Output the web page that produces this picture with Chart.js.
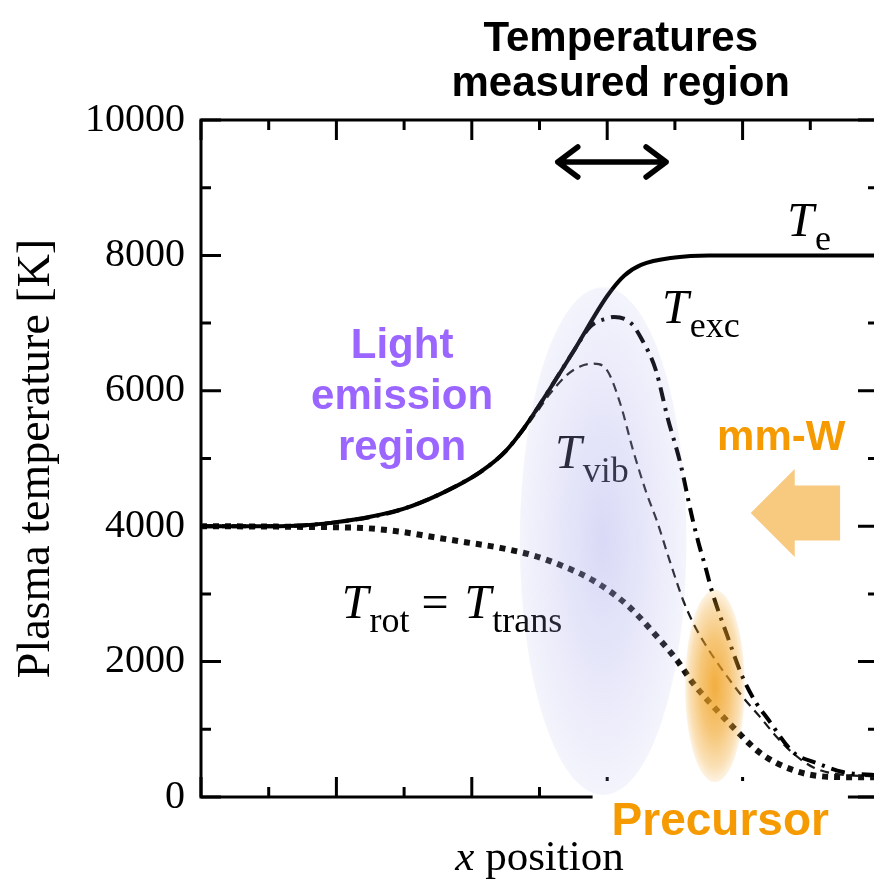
<!DOCTYPE html>
<html>
<head>
<meta charset="utf-8">
<script src="https://cdn.jsdelivr.net/npm/chart.js@4"></script>
<style>
  html, body { margin: 0; padding: 0; background: #fff; overflow: hidden; }
  canvas { display: block; }
</style>
</head>
<body>
<canvas id="tempChart" width="884" height="887"></canvas>
<script>
'use strict';

const SERIF = '"Liberation Serif", "Times New Roman", serif';
const SANS  = '"Liberation Sans", Arial, sans-serif';

// Temperature profiles along the x position (arbitrary units 0..10), in K
const teX  = [0, 1, 1.5, 2, 2.5, 3, 3.5, 4, 4.25, 4.5, 4.75, 5, 5.5, 6, 6.25, 6.5, 7, 7.5, 8, 9, 10];
const teY  = [4000, 4000, 4010, 4060, 4140, 4260, 4460, 4720, 4890, 5110, 5420, 5790, 6580, 7400, 7700, 7860, 7970, 8000, 8000, 8000, 8000];

const excX = [0, 1, 2, 3, 4, 4.25, 4.5, 4.75, 5, 5.5, 5.75, 6.0, 6.1, 6.35, 6.5, 6.72, 6.89, 7.08, 7.25, 7.35, 7.45, 7.55, 7.77, 8.0, 8.2, 8.36, 8.75, 9.1, 9.48, 10];
const excY = [4000, 4000, 4060, 4260, 4720, 4890, 5110, 5420, 5790, 6580, 6950, 7070, 7090, 7000, 6780, 6300, 5610, 4930, 4150, 3750, 3400, 3030, 2390, 1770, 1390, 1170, 660, 500, 370, 320];

const vibX = [0, 1, 2, 3, 4, 4.25, 4.5, 4.75, 5, 5.15, 5.4, 5.6, 5.8, 6.0, 6.19, 6.38, 6.58, 6.73, 6.92, 7.12, 7.27, 7.47, 7.67, 8.0, 8.26, 8.5, 8.74, 9.04, 9.33, 10];
const vibY = [4000, 4000, 4060, 4260, 4720, 4890, 5100, 5400, 5740, 5950, 6230, 6360, 6400, 6300, 5820, 5130, 4490, 4090, 3500, 2910, 2570, 2220, 1920, 1480, 1180, 890, 650, 440, 350, 300];

const rotX = [0, 1, 1.5, 2, 2.45, 2.94, 3.43, 3.93, 4.42, 4.9, 5.3, 5.79, 6.29, 6.78, 7.03, 7.27, 7.52, 7.86, 8.26, 8.74, 9.25, 10];
const rotY = [4000, 3995, 3990, 3985, 3970, 3920, 3840, 3760, 3680, 3570, 3430, 3200, 2840, 2320, 2020, 1680, 1390, 1030, 650, 400, 300, 290];

// Axis ticks
const yMajor = [0, 2000, 4000, 6000, 8000, 10000];
const yMinor = [1000, 3000, 5000, 7000, 9000];
const xMajor = [0, 2, 4, 6, 8, 10];
const xMinor = [1, 3, 5, 7, 9];

// Regions (centre and radii in axis units)
const emissionZone  = { x: 5.94, y: 3780, rx: 1.23, ry: 3750 };
const precursorZone = { x: 7.59, y: 1640, rx: 0.44, ry: 1420 };
const measuredSpan  = { x0: 5.27, x1: 6.87, y: 9380 };
const beamArrow     = { tip: 8.12, neck: 8.77, tail: 9.44, y: 4195, head: 650, shaft: 406 };

const toPts = (xs, ys) => xs.map((x, i) => ({ x, y: ys[i] }));

function series(label, xs, ys, style) {
  return Object.assign({
    label,
    data: toPts(xs, ys),
    showLine: true,
    pointRadius: 0,
    cubicInterpolationMode: 'monotone',
    borderCapStyle: 'butt',
    fill: false,
  }, style);
}

function subLabel(ctx, x, y, sub) {
  ctx.font = `italic 48px ${SERIF}`;
  ctx.fillText('T', x, y);
  const w = ctx.measureText('T').width + 1;
  ctx.font = `36px ${SERIF}`;
  ctx.fillText(sub, x + w, y + 14);
  return x + w + ctx.measureText(sub).width;
}

// frame with inward ticks on all four sides
const frame = {
  id: 'frame',
  beforeDatasetsDraw(chart) {
    const { ctx, chartArea: a, scales: { x, y } } = chart;
    ctx.save();
    ctx.strokeStyle = '#000';
    ctx.lineWidth = 3;
    ctx.strokeRect(a.left, a.top, a.right - a.left, a.bottom - a.top);
    ctx.beginPath();
    const tickX = (v, len) => {
      const px = x.getPixelForValue(v);
      ctx.moveTo(px, a.bottom); ctx.lineTo(px, a.bottom - len);
      ctx.moveTo(px, a.top);    ctx.lineTo(px, a.top + len);
    };
    const tickY = (v, len) => {
      const py = y.getPixelForValue(v);
      ctx.moveTo(a.left, py);  ctx.lineTo(a.left + len, py);
      ctx.moveTo(a.right, py); ctx.lineTo(a.right - len, py);
    };
    xMajor.forEach(v => tickX(v, 20));
    xMinor.forEach(v => tickX(v, 10));
    yMajor.forEach(v => tickY(v, 20));
    yMinor.forEach(v => tickY(v, 10));
    ctx.stroke();
    ctx.restore();
  }
};

const notes = {
  id: 'notes',
  afterDatasetsDraw(chart) {
    const { ctx, chartArea: a, scales: { x, y } } = chart;
    const px = v => x.getPixelForValue(v);
    const py = v => y.getPixelForValue(v);
    ctx.save();
    ctx.textBaseline = 'alphabetic';
    ctx.textAlign = 'left';
    ctx.fillStyle = '#000';

    // curve labels
    subLabel(ctx, px(8.66), py(8287), 'e');
    subLabel(ctx, px(6.81), py(7001), 'exc');
    subLabel(ctx, px(5.23), py(4860), 'vib');
    let end = subLabel(ctx, px(2.08), py(2644), 'rot');
    ctx.font = `48px ${SERIF}`;
    ctx.fillText(' = ', end, py(2644));
    end += ctx.measureText(' = ').width + 4;
    subLabel(ctx, end, py(2644), 'trans');

    // Light emission region
    ctx.textAlign = 'center';
    ctx.fillStyle = '#9a66ff';
    ctx.font = `bold 42px ${SANS}`;
    ['Light', 'emission', 'region'].forEach((t, i) => ctx.fillText(t, px(2.97), py(6485) + i * 51));

    // white patch under the Precursor label
    ctx.font = `bold 46px ${SANS}`;
    const pw = ctx.measureText('Precursor').width;
    const pcx = px(7.67);
    ctx.fillStyle = '#fff';
    ctx.fillRect(pcx - pw / 2 - 19, a.bottom - 16, pw + 38, 72);

    // emission zone (lavender) and precursor zone (orange)
    const blob = (z, stops) => {
      const cx = px(z.x), cy = py(z.y);
      const rx = px(z.x + z.rx) - cx, ry = cy - py(z.y + z.ry);
      ctx.save();
      ctx.translate(cx, cy);
      ctx.scale(1, ry / rx);
      const g = ctx.createRadialGradient(0, 0, 0, 0, 0, rx);
      stops.forEach(([o, c]) => g.addColorStop(o, c));
      ctx.fillStyle = g;
      ctx.beginPath();
      ctx.arc(0, 0, rx, 0, Math.PI * 2);
      ctx.fill();
      ctx.restore();
    };
    blob(emissionZone, [[0, 'rgba(165,165,235,0.42)'], [1, 'rgba(165,165,235,0.12)']]);
    blob(precursorZone, [[0, 'rgba(240,160,30,0.85)'], [0.5, 'rgba(240,160,30,0.6)'], [0.85, 'rgba(240,160,30,0.32)'], [1, 'rgba(240,160,30,0.12)']]);

    // measured-region double arrow
    const ax0 = px(measuredSpan.x0), ax1 = px(measuredSpan.x1), ay = py(measuredSpan.y);
    ctx.strokeStyle = '#000';
    ctx.lineWidth = 5.5;
    ctx.lineCap = 'round';
    ctx.lineJoin = 'round';
    ctx.beginPath();
    ctx.moveTo(ax0, ay); ctx.lineTo(ax1, ay);
    ctx.moveTo(ax0 + 20, ay - 15); ctx.lineTo(ax0, ay); ctx.lineTo(ax0 + 20, ay + 15);
    ctx.moveTo(ax1 - 20, ay - 15); ctx.lineTo(ax1, ay); ctx.lineTo(ax1 - 20, ay + 15);
    ctx.stroke();

    // incoming mm-wave beam arrow
    const b = beamArrow;
    ctx.fillStyle = '#f8ca80';
    ctx.beginPath();
    ctx.moveTo(px(b.tip), py(b.y));
    ctx.lineTo(px(b.neck), py(b.y + b.head));
    ctx.lineTo(px(b.neck), py(b.y + b.shaft));
    ctx.lineTo(px(b.tail), py(b.y + b.shaft));
    ctx.lineTo(px(b.tail), py(b.y - b.shaft));
    ctx.lineTo(px(b.neck), py(b.y - b.shaft));
    ctx.lineTo(px(b.neck), py(b.y - b.head));
    ctx.closePath();
    ctx.fill();

    ctx.fillStyle = '#f59a00';
    ctx.font = `bold 42px ${SANS}`;
    ctx.fillText('mm-W', px(8.57), py(5126));
    ctx.font = `bold 46px ${SANS}`;
    ctx.fillText('Precursor', pcx, a.bottom + 38);

    // heading
    ctx.fillStyle = '#000';
    ctx.font = `bold 42px ${SANS}`;
    ctx.fillText('Temperatures', px(6.2), a.top - 69);
    ctx.fillText('measured region', px(6.2), a.top - 24);

    // x axis title with italic x
    ctx.textAlign = 'left';
    ctx.font = `italic 43px ${SERIF}`;
    const xw = ctx.measureText('x').width;
    ctx.font = `43px ${SERIF}`;
    const rw = ctx.measureText(' position').width;
    const tx = (a.left + a.right) / 2 - (xw + rw) / 2;
    ctx.font = `italic 43px ${SERIF}`;
    ctx.fillText('x', tx, a.bottom + 73);
    ctx.font = `43px ${SERIF}`;
    ctx.fillText(' position', tx + xw, a.bottom + 73);

    ctx.restore();
  }
};

new Chart(document.getElementById('tempChart'), {
  type: 'scatter',
  data: {
    datasets: [
      series('Te', teX, teY, { borderColor: '#000', borderWidth: 4 }),
      series('Texc', excX, excY, { borderColor: '#000', borderWidth: 4, borderDash: [14, 7, 3, 7] }),
      series('Tvib', vibX, vibY, { borderColor: '#1a1a1a', borderWidth: 2.2, borderDash: [9, 6] }),
      series('Trot', rotX, rotY, { borderColor: '#111', borderWidth: 6, borderDash: [6, 6] }),
    ],
  },
  options: {
    responsive: false,
    animation: false,
    layout: { padding: { top: 120, right: 6, left: 0, bottom: 0 } },
    plugins: { legend: { display: false }, tooltip: { enabled: false } },
    scales: {
      x: {
        type: 'linear', min: 0, max: 10,
        ticks: { display: false },
        grid: { display: false, drawTicks: false },
        border: { display: false },
        afterFit: s => { s.height = 90; },
      },
      y: {
        min: 0, max: 10000,
        afterBuildTicks: s => { s.ticks = yMajor.map(v => ({ value: v })); },
        ticks: { color: '#000', font: { family: SERIF, size: 40 }, padding: 16, callback: v => String(v) },
        grid: { display: false, drawTicks: false },
        border: { display: false },
        title: {
          display: true,
          text: 'Plasma temperature [K]',
          color: '#000',
          font: { family: SERIF, size: 46 },
          padding: { top: 9, bottom: 0 },
        },
        afterFit: s => { s.width = 201; },
      },
    },
  },
  plugins: [frame, notes],
});
</script>
</body>
</html>
